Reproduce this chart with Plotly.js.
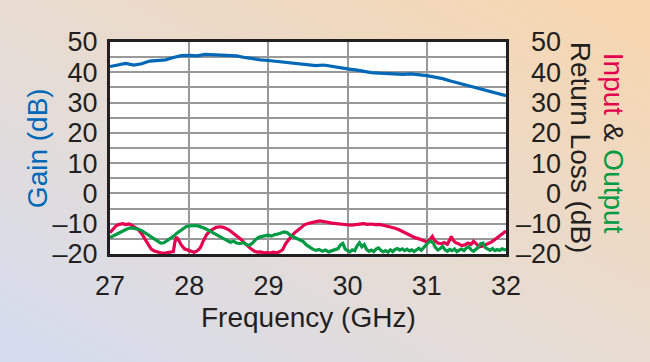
<!DOCTYPE html>
<html>
<head>
<meta charset="utf-8">
<script src="https://cdn.plot.ly/plotly-3.0.1.min.js"></script>
<style>
html,body{margin:0;padding:0;width:650px;height:362px;overflow:hidden;
background:linear-gradient(to top right,#d4dcf0 0%,#e6dcd4 45%,#f8d6ad 100%);}
#chart{width:650px;height:362px;}
</style>
</head>
<body>
<div id="chart"></div>
<script>
// Gain (dB) vs frequency (GHz)
const gainFreq = [27.0,27.1,27.2,27.3,27.4,27.5,27.6,27.7,27.8,27.9,28.0,28.1,28.2,28.3,28.4,28.5,28.6,28.7,28.8,28.9,29.0,29.1,29.2,29.3,29.4,29.5,29.6,29.7,29.8,29.9,30.0,30.1,30.2,30.3,30.4,30.5,30.6,30.7,30.8,30.9,31.0,31.1,31.2,31.3,31.4,31.5,31.6,31.7,31.8,31.9,32.0];
const gainDb = [41.9,42.4,42.9,42.4,42.8,43.7,44.0,44.1,44.9,45.5,45.6,45.4,45.9,45.8,45.5,45.5,45.4,44.9,44.4,44.1,43.9,43.6,43.3,43.1,42.8,42.3,42.2,42.4,41.9,41.5,41.1,40.8,40.3,39.9,39.7,39.5,39.3,39.3,39.5,39.3,38.9,38.4,37.9,37.1,36.4,35.8,35.1,34.5,33.8,33.0,32.3];

// Input return loss (dB)
const inputFreq = [27.00,27.04,27.08,27.12,27.16,27.20,27.24,27.28,27.32,27.36,27.40,27.44,27.48,27.52,27.56,27.60,27.64,27.68,27.74,27.80,27.82,27.84,27.87,27.90,27.94,27.98,28.02,28.06,28.10,28.14,28.18,28.22,28.26,28.30,28.34,28.38,28.42,28.46,28.50,28.54,28.58,28.62,28.66,28.70,28.74,28.78,28.82,28.86,28.90,28.94,28.98,29.02,29.06,29.10,29.14,29.18,29.22,29.26,29.30,29.34,29.38,29.42,29.46,29.50,29.55,29.60,29.65,29.70,29.75,29.80,29.85,29.90,29.95,30.00,30.05,30.10,30.15,30.20,30.25,30.30,30.35,30.40,30.45,30.50,30.55,30.60,30.65,30.70,30.75,30.80,30.85,30.90,30.95,31.00,31.04,31.07,31.10,31.14,31.18,31.22,31.26,31.29,31.31,31.33,31.36,31.40,31.44,31.48,31.52,31.56,31.59,31.62,31.66,31.70,31.74,31.78,31.82,31.86,31.90,31.94,31.97,32.00];
const inputDb = [-13.0,-11.8,-10.6,-10.2,-10.0,-10.3,-10.1,-10.6,-11.2,-12.0,-13.3,-15.0,-16.8,-18.4,-19.0,-19.4,-19.6,-19.8,-19.6,-19.2,-16.0,-14.4,-15.6,-17.0,-18.3,-18.6,-19.0,-19.4,-19.0,-18.0,-15.6,-13.6,-12.4,-11.9,-11.2,-11.0,-11.1,-11.5,-12.0,-12.8,-13.6,-14.5,-15.3,-16.4,-17.4,-18.3,-19.0,-19.4,-19.3,-19.6,-19.5,-19.7,-19.4,-19.6,-19.3,-18.6,-16.5,-15.0,-13.8,-12.8,-11.9,-11.0,-10.3,-9.9,-9.5,-9.3,-9.1,-9.2,-9.5,-9.8,-9.9,-10.1,-10.3,-10.4,-10.5,-10.3,-10.1,-10.0,-10.2,-10.1,-10.3,-10.2,-10.5,-10.8,-11.1,-11.5,-12.0,-12.7,-13.4,-14.1,-14.6,-15.0,-15.6,-16.0,-15.2,-14.2,-15.6,-16.4,-16.6,-16.2,-16.8,-15.5,-14.2,-15.4,-16.2,-16.6,-17.2,-17.0,-16.4,-16.8,-15.8,-16.5,-17.6,-17.4,-16.9,-16.6,-16.0,-15.2,-14.3,-13.5,-12.8,-12.4];

// Output return loss (dB)
const outputFreq = [27.00,27.04,27.08,27.12,27.16,27.20,27.24,27.28,27.32,27.36,27.40,27.44,27.48,27.52,27.56,27.60,27.64,27.68,27.72,27.76,27.80,27.84,27.88,27.92,27.96,28.00,28.04,28.08,28.12,28.16,28.20,28.24,28.28,28.32,28.36,28.40,28.44,28.48,28.52,28.56,28.60,28.64,28.68,28.72,28.76,28.80,28.84,28.88,28.92,28.96,29.00,29.04,29.08,29.12,29.16,29.20,29.24,29.28,29.32,29.36,29.40,29.44,29.48,29.52,29.56,29.60,29.64,29.68,29.72,29.76,29.80,29.84,29.88,29.91,29.94,29.97,30.00,30.03,30.06,30.09,30.12,30.15,30.18,30.21,30.24,30.27,30.30,30.33,30.36,30.39,30.42,30.45,30.48,30.51,30.54,30.57,30.60,30.63,30.66,30.69,30.72,30.75,30.78,30.81,30.84,30.87,30.90,30.93,30.96,30.99,31.02,31.05,31.08,31.11,31.14,31.17,31.20,31.23,31.26,31.29,31.32,31.35,31.38,31.41,31.44,31.47,31.50,31.53,31.56,31.59,31.62,31.65,31.68,31.71,31.74,31.77,31.80,31.83,31.86,31.89,31.92,31.95,31.98,32.00];
const outputDb = [-14.6,-14.0,-13.4,-13.0,-12.4,-11.9,-11.5,-11.4,-11.6,-11.8,-12.3,-13.0,-13.8,-14.5,-15.2,-15.8,-16.4,-16.3,-15.7,-15.1,-14.2,-13.2,-12.4,-11.6,-11.0,-10.7,-10.6,-10.6,-10.8,-11.1,-11.6,-12.1,-12.7,-13.4,-14.1,-14.6,-15.2,-15.6,-16.1,-15.8,-16.4,-16.6,-16.2,-16.9,-17.1,-16.4,-15.2,-14.5,-14.2,-13.9,-13.8,-14.1,-13.6,-13.4,-13.1,-12.7,-13.0,-13.9,-14.4,-14.9,-15.3,-15.9,-17.0,-17.8,-18.4,-18.8,-18.5,-19.1,-18.7,-19.3,-18.9,-18.6,-18.2,-17.0,-16.5,-18.4,-19.0,-19.3,-18.6,-18.9,-17.3,-16.3,-17.6,-16.9,-18.5,-19.1,-18.7,-19.2,-18.4,-18.0,-18.8,-19.3,-18.9,-19.4,-18.6,-19.2,-18.5,-18.2,-18.7,-18.3,-18.9,-18.4,-19.0,-18.6,-19.2,-18.5,-18.1,-18.8,-17.8,-16.9,-16.2,-15.7,-16.4,-17.9,-18.7,-18.2,-17.5,-18.6,-19.1,-18.5,-18.9,-18.3,-19.2,-18.7,-18.4,-18.9,-18.0,-17.6,-18.6,-19.1,-18.5,-17.8,-16.6,-16.4,-17.9,-18.3,-18.8,-18.2,-18.9,-18.5,-18.8,-18.3,-18.6,-18.4];

// Axis ticks
const xTicks = [27,28,29,30,31,32];
const xTickText = ['27','28','29','30','31','32'];
const yTicks = [-20,-15,-10,-5,0,5,10,15,20,25,30,35,40,45,50];
const yTickText = ['–20','','–10','','0','','10','','20','','30','','40','','50'];
const y2TickText = ['–20','','–10','','\u2007\u20070','','\u200710','','\u200720','','\u200730','','\u200740','','\u200750'];

const FONT = 'Liberation Sans, Arial, sans-serif';
const INK = '#231f20';
const BLUE = '#0068b7', RED = '#e5004f', GREEN = '#009944';

const traces = [
  {x: gainFreq, y: gainDb, type:'scatter', mode:'lines', line:{color:BLUE, width:3.2}, yaxis:'y', hoverinfo:'skip'},
  {x: inputFreq, y: inputDb, type:'scatter', mode:'lines', line:{color:RED, width:3.2}, yaxis:'y2', hoverinfo:'skip'},
  {x: outputFreq, y: outputDb, type:'scatter', mode:'lines', line:{color:GREEN, width:3.2}, yaxis:'y2', hoverinfo:'skip'}
];

const layout = {
  width:650, height:362,
  margin:{l:110, r:144, t:42, b:108, pad:0},
  paper_bgcolor:'rgba(0,0,0,0)',
  plot_bgcolor:'#ffffff',
  showlegend:false,
  font:{family:FONT, color:INK, size:27},
  xaxis:{range:[27,32], tickvals:xTicks, ticktext:xTickText, showgrid:true, gridcolor:'#999999', gridwidth:2,
         showline:true, linecolor:INK, linewidth:3, mirror:true, ticks:'', zeroline:false,
         tickfont:{family:FONT, size:27, color:INK}, ticklabelstandoff:6},
  yaxis:{range:[-20,50], tickvals:yTicks, ticktext:yTickText, showgrid:true, gridcolor:'#999999', gridwidth:2,
         showline:true, linecolor:INK, linewidth:3, mirror:true, ticks:'', zeroline:false,
         tickfont:{family:FONT, size:27, color:INK}, ticklabelstandoff:4},
  yaxis2:{range:[-20,50], tickvals:yTicks, ticktext:y2TickText, overlaying:'y', side:'right', showgrid:false,
          showline:false, ticks:'', zeroline:false, tickfont:{family:FONT, size:27, color:INK}, ticklabelstandoff:9},
  annotations:[
    {text:'Gain (dB)', xref:'paper', yref:'paper', x:-0.184, y:0.5, xanchor:'center', yanchor:'middle',
     textangle:-90, showarrow:false, font:{family:FONT, size:28, color:BLUE}},
    {text:'Return Loss (dB)', xref:'paper', yref:'paper', x:1.19, y:0.5, xanchor:'center', yanchor:'middle',
     textangle:90, showarrow:false, font:{family:FONT, size:28, color:INK}},
    {text:'<span style="color:'+RED+'">Input</span> & <span style="color:'+GREEN+'">Output</span>', xref:'paper', yref:'paper',
     x:1.27, y:0.52, xanchor:'center', yanchor:'middle',
     textangle:90, showarrow:false, font:{family:FONT, size:28, color:INK}},
    {text:'Frequency (GHz)', xref:'paper', yref:'paper', x:0.5, y:-0.30, xanchor:'center', yanchor:'middle',
     showarrow:false, font:{family:FONT, size:28, color:INK}}
  ]
};

Plotly.newPlot('chart', traces, layout, {staticPlot:true, displayModeBar:false});
</script>
</body>
</html>
